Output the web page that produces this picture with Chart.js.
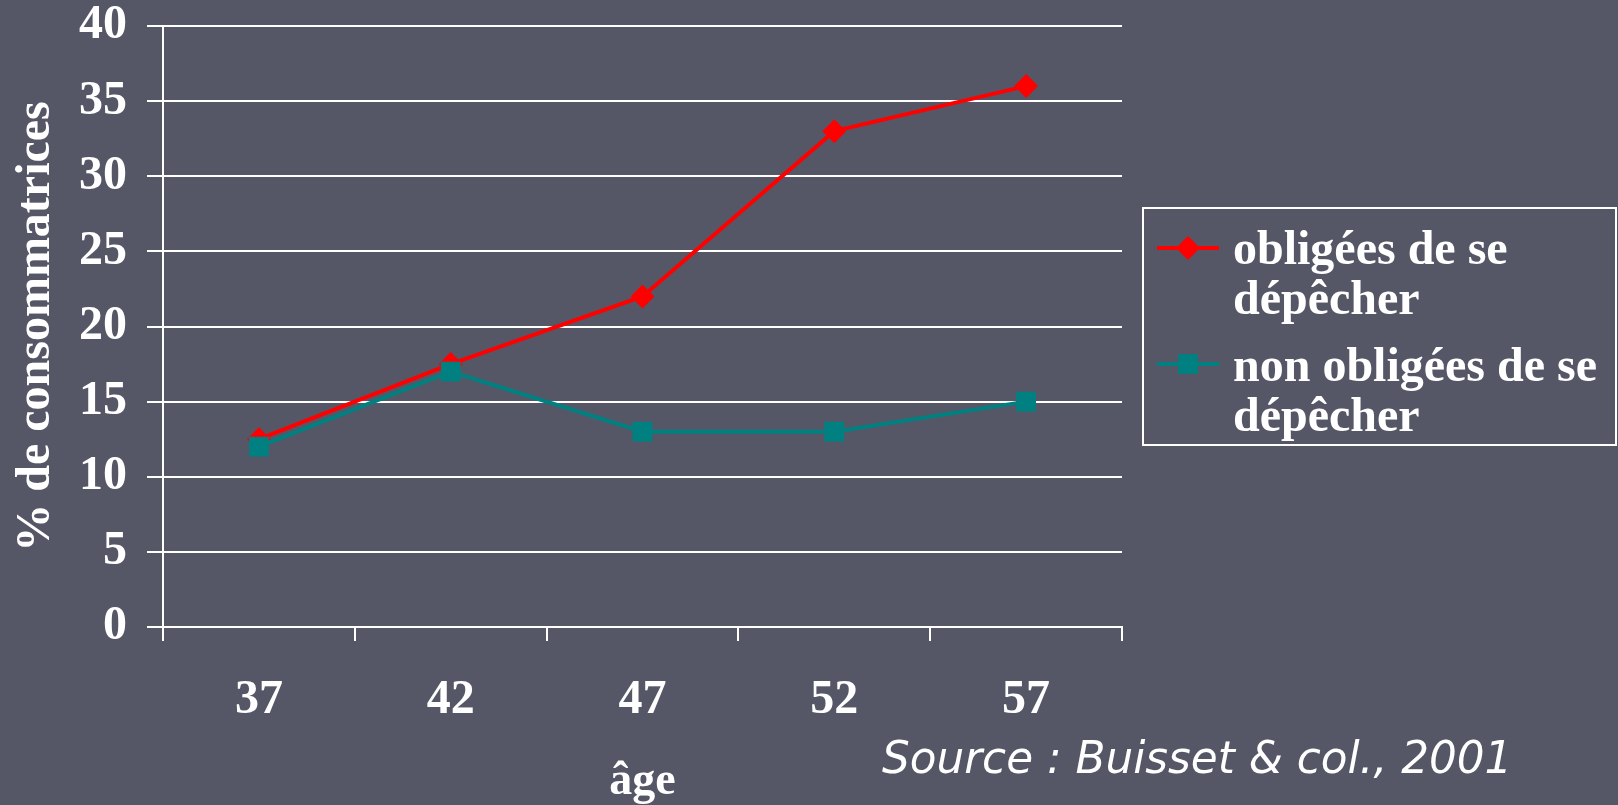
<!DOCTYPE html>
<html>
<head>
<meta charset="utf-8">
<script src="https://cdn.jsdelivr.net/npm/chart.js@4.4.1/dist/chart.umd.min.js"></script>
<style>
html, body { margin: 0; padding: 0; background: #555766; }
#wrap { width: 1618px; height: 805px; }
</style>
</head>
<body>
<div id="wrap"><canvas id="ageChart" width="1618" height="805"></canvas></div>
<script>
const ages = ['37', '42', '47', '52', '57'];
const hurried = [12.5, 17.5, 22, 33, 36];
const notHurried = [12, 17, 13, 13, 15];
const seriesNames = [['obligées de se', 'dépêcher'], ['non obligées de se', 'dépêcher']];
const sourceText = 'Source : Buisset & col., 2001';

const serif = '"Liberation Serif", "Times New Roman", serif';

// legend box + source note, drawn by hand because the legend text wraps
const extras = {
    id: 'extras',
    afterDraw(chart) {
        const ctx = chart.ctx;
        ctx.save();
        ctx.strokeStyle = '#ffffff';
        ctx.lineWidth = 2;
        ctx.strokeRect(1143, 208, 473, 237);

        ctx.font = 'bold 48px ' + serif;
        ctx.textBaseline = 'alphabetic';
        const baselines = [[264, 314], [381, 431]];
        const markerY = [248, 364];
        chart.data.datasets.forEach((ds, i) => {
            const my = markerY[i];
            ctx.strokeStyle = ds.borderColor;
            ctx.lineWidth = 4;
            ctx.beginPath();
            ctx.moveTo(1157, my);
            ctx.lineTo(1219, my);
            ctx.stroke();
            ctx.fillStyle = ds.pointBackgroundColor;
            Chart.helpers.drawPoint(ctx, {pointStyle: ds.pointStyle, radius: ds.pointRadius, rotation: 0, borderWidth: 0}, 1188, my);
            ctx.fillStyle = '#ffffff';
            seriesNames[i].forEach((line, j) => ctx.fillText(line, 1233, baselines[i][j]));
        });

        ctx.font = 'italic 40px "DejaVu Sans", sans-serif';
        const w = ctx.measureText(sourceText).width;
        const size = 40 * 630 / w;
        ctx.font = 'italic ' + size.toFixed(1) + 'px "DejaVu Sans", sans-serif';
        ctx.textBaseline = 'middle';
        ctx.fillText(sourceText, 882, 762);
        ctx.restore();
    }
};

new Chart(document.getElementById('ageChart'), {
    type: 'line',
    data: {
        labels: ages,
        datasets: [{
            label: 'obligées de se dépêcher',
            data: hurried,
            order: 1,
            borderColor: '#ff0000',
            backgroundColor: '#ff0000',
            pointBackgroundColor: '#ff0000',
            pointBorderWidth: 0,
            pointStyle: 'rectRot',
            pointRadius: 12,
            borderWidth: 4,
            tension: 0
        }, {
            label: 'non obligées de se dépêcher',
            data: notHurried,
            order: 0,
            borderColor: '#008080',
            backgroundColor: '#008080',
            pointBackgroundColor: '#008080',
            pointBorderWidth: 0,
            pointStyle: 'rect',
            pointRadius: 14,
            borderWidth: 4,
            tension: 0
        }]
    },
    options: {
        responsive: false,
        animation: false,
        layout: { padding: { right: 496, top: 0 } },
        plugins: { legend: { display: false }, tooltip: { enabled: false } },
        scales: {
            x: {
                offset: true,
                grid: { offset: true, drawOnChartArea: false, color: '#ffffff', lineWidth: 2, tickLength: 14 },
                border: { color: '#ffffff', width: 2 },
                ticks: { color: '#ffffff', font: { family: serif, size: 48, weight: 'bold' }, padding: 31 },
                title: { display: true, text: 'âge', color: '#ffffff', font: { family: serif, size: 46, weight: 'bold', lineHeight: 1.0 }, padding: { top: 0, bottom: 0 } },
                afterFit(scale) { scale.height = 178; }
            },
            y: {
                min: 0,
                max: 40,
                ticks: { stepSize: 5, color: '#ffffff', font: { family: serif, size: 48, weight: 'bold', lineHeight: 1.1 }, padding: 20 },
                grid: { color: '#ffffff', lineWidth: 2, tickLength: 16 },
                border: { color: '#ffffff', width: 2 },
                title: { display: true, text: '% de consommatrices', color: '#ffffff', font: { family: serif, size: 48, weight: 'bold' }, padding: { top: 8, bottom: 0 } },
                afterFit(scale) {
                    scale.width = 163;
                    scale.paddingTop = 26;
                    scale.paddingBottom = 0;
                }
            }
        }
    },
    plugins: [extras]
});
</script>
</body>
</html>
